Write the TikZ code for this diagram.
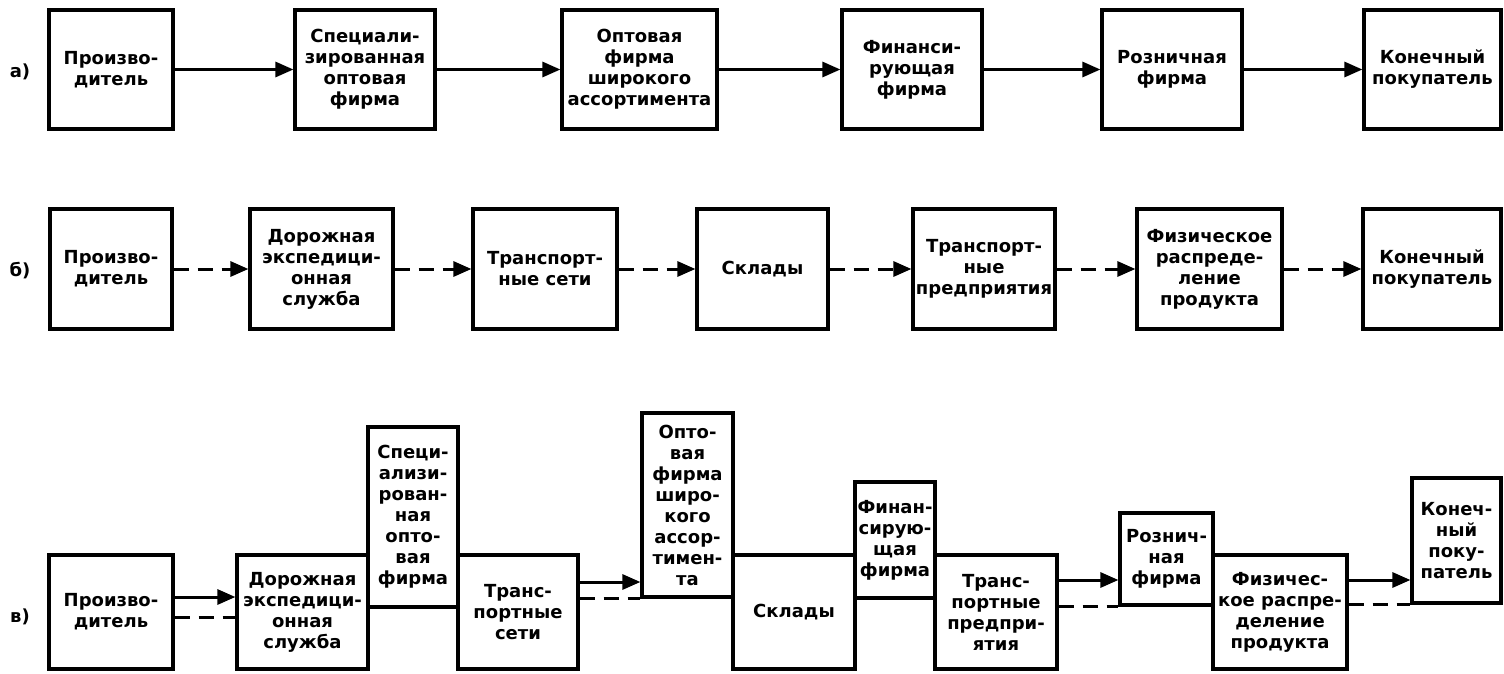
\documentclass[tikz,border=0pt]{standalone}
\usepackage{fontspec}
\setmainfont{DejaVu Sans}
\usetikzlibrary{arrows.meta,calc}
\newcommand\firmfont{\bfseries\fontsize{18}{21}\selectfont}
\tikzset{
  firm/.style 2 args={draw, line width=3.2pt, align=center, inner sep=0pt, font=\firmfont, minimum width=#1, minimum height=#2},
  tag/.style={font=\firmfont},
  own/.style={-{Triangle[length=18pt,width=15pt]}, line width=3pt},
  haul/.style={own, dash pattern=on 15pt off 9pt},
  phys/.style={line width=3pt, dash pattern=on 15pt off 9pt},
}
\begin{document}
\begin{tikzpicture}[x=1pt, y=-1pt]
  \useasboundingbox (0,0) rectangle (1504,674);
  \node[tag] (la) at (20,72) {а)};
  \node[firm={124pt}{119pt}] (pa) at (111,69.5) {Произво-\\дитель};
  \node[firm={140pt}{119pt}] (sa) at (365,69.5) {Специали-\\зированная\\оптовая\\фирма};
  \node[firm={155pt}{119pt}] (wa) at (639.5,69.5) {Оптовая\\фирма\\широкого\\ассортимента};
  \node[firm={140pt}{119pt}] (fa) at (912,69.5) {Финанси-\\рующая\\фирма};
  \node[firm={140pt}{119pt}] (ra) at (1172,69.5) {Розничная\\фирма};
  \node[firm={137pt}{119pt}] (ka) at (1432.5,69.5) {Конечный\\покупатель};
  \draw[own] (pa) -- (sa);
  \draw[own] (sa) -- (wa);
  \draw[own] (wa) -- (fa);
  \draw[own] (fa) -- (ra);
  \draw[own] (ra) -- (ka);

  \node[tag] (lb) at (20,271) {б)};
  \node[firm={122pt}{120pt}] (pb) at (111,269) {Произво-\\дитель};
  \node[firm={143pt}{120pt}] (db) at (321.5,269) {Дорожная\\экспедици-\\онная\\служба};
  \node[firm={144pt}{120pt}] (tb) at (545,269) {Транспорт-\\ные сети};
  \node[firm={131pt}{120pt}] (gb) at (762.5,269) {Склады};
  \node[firm={142pt}{120pt}] (eb) at (984,269) {Транспорт-\\ные\\предприятия};
  \node[firm={145pt}{120pt}] (hb) at (1209.5,269) {Физическое\\распреде-\\ление\\продукта};
  \node[firm={138pt}{120pt}] (kb) at (1432,269) {Конечный\\покупатель};
  \draw[haul] (pb) -- (db);
  \draw[haul] (db) -- (tb);
  \draw[haul] (tb) -- (gb);
  \draw[haul] (gb) -- (eb);
  \draw[haul] (eb) -- (hb);
  \draw[haul] (hb) -- (kb);

  \node[tag] (lc) at (20,617) {в)};
  \node[firm={124pt}{114pt}] (pc) at (111,612) {Произво-\\дитель};
  \node[firm={131pt}{114pt}] (dc) at (302.5,612) {Дорожная\\экспедици-\\онная\\служба};
  \node[firm={90pt}{180pt}] (sc) at (413,517) {Специ-\\ализи-\\рован-\\ная\\опто-\\вая\\фирма};
  \node[firm={120pt}{114pt}] (tc) at (518,612) {Транс-\\портные\\сети};
  \node[firm={91pt}{184pt}] (wc) at (687.5,505) {Опто-\\вая\\фирма\\широ-\\кого\\ассор-\\тимен-\\та};
  \node[firm={122pt}{114pt}] (gc) at (794,612) {Склады};
  \node[firm={80pt}{116pt}] (fc) at (895,540) {Финан-\\сирую-\\щая\\фирма};
  \node[firm={122pt}{114pt}] (ec) at (996,612) {Транс-\\портные\\предпри-\\ятия};
  \node[firm={93pt}{92pt}] (rc) at (1166.5,559) {Рознич-\\ная\\фирма};
  \node[firm={134pt}{114pt}] (hc) at (1280,612) {Физичес-\\кое распре-\\деление\\продукта};
  \node[firm={89pt}{125pt}] (kc) at (1456.5,540.5) {Конеч-\\ный\\поку-\\патель};
  \draw[own] ([yshift=15pt]pc.east) -- ([yshift=15pt]dc.west);
  \draw[phys] ([yshift=-5pt]pc.east) -- ([yshift=-5pt]dc.west);
  \draw[own] ([yshift=30pt]tc.east) -- ([yshift=30pt]tc.east -| wc.west);
  \draw[phys] (tc.east |- wc.south) -- (wc.south west);
  \draw[own] ([yshift=32pt]ec.east) -- ([yshift=32pt]ec.east -| rc.west);
  \draw[phys] (ec.east |- rc.south) -- (rc.south west);
  \draw[own] ([yshift=32pt]hc.east) -- ([yshift=32pt]hc.east -| kc.west);
  \draw[phys] (hc.east |- kc.south) -- (kc.south west);
\end{tikzpicture}
\end{document}
